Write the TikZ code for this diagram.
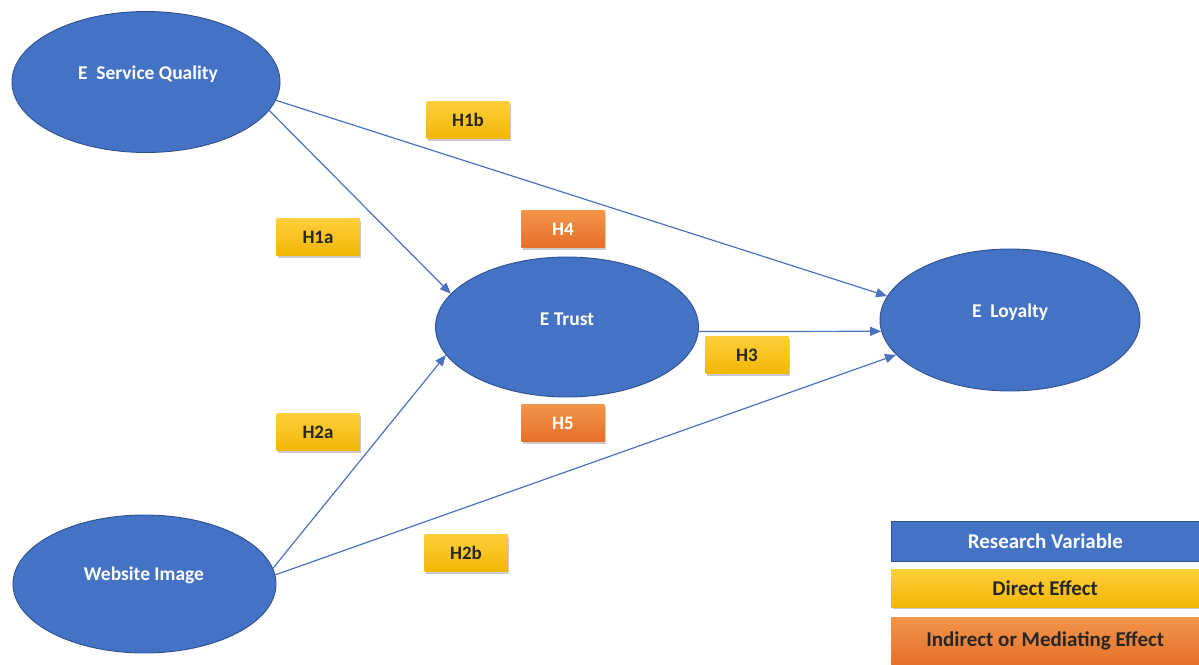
\documentclass[tikz,border=0pt]{standalone}
\usepackage{fontspec}
\setmainfont{Carlito}
\usetikzlibrary{shapes.geometric,shadows,arrows.meta}
\definecolor{vblue}{HTML}{4472C4}
\definecolor{vedge}{HTML}{2F528F}
\definecolor{ytop}{HTML}{FFCF3A}
\definecolor{ybot}{HTML}{F2B705}
\definecolor{otop}{HTML}{F39449}
\definecolor{obot}{HTML}{E6702A}
\definecolor{lnk}{HTML}{4A72C0}
\begin{document}
\begin{tikzpicture}[x=1pt,y=-1pt,
  var/.style={ellipse,fill=vblue,draw=vedge,line width=0.9pt,inner sep=0pt},
  vtext/.style={text=white,font=\fontsize{19.5}{21}\selectfont\bfseries,inner sep=0pt},
  hyp/.style={rectangle,minimum width=83pt,minimum height=37pt,inner sep=0pt,
    drop shadow={shadow xshift=1.5pt,shadow yshift=-2pt,opacity=0.35,fill=black!60},
    font=\fontsize{19}{21}\selectfont\bfseries},
  dbox/.style={hyp,top color=ytop,bottom color=ybot,text=black!85},
  ibox/.style={hyp,top color=otop,bottom color=obot,text=white},
  legbox/.style={rectangle,minimum width=308pt,inner sep=0pt,anchor=west,
    font=\fontsize{21}{23}\selectfont\bfseries},
  link/.style={draw=lnk,line width=1.2pt,-{Triangle[length=11pt,width=9pt]}}
]
\useasboundingbox (0,0) rectangle (1199,664);

% research variables
\node[var,minimum width=268pt,minimum height=141pt] (esq) at (146,82) {};
\node[vtext] (esqt) at (148,74) {E\ \ Service Quality};
\node[var,minimum width=263pt,minimum height=140pt] (etr) at (567,327) {};
\node[vtext] (etrt) at (567,319) {E Trust};
\node[var,minimum width=260pt,minimum height=142pt] (eloy) at (1010,320) {};
\node[vtext] (eloyt) at (1010,312) {E\ \ Loyalty};
\node[var,minimum width=263pt,minimum height=138pt] (wi) at (144.5,584) {};
\node[vtext] (wit) at (144,575) {Website Image};

% connectors
\draw[link] (esq.-13.4) -- (etr.164);
\draw[link] (esq.-8.7) -- (eloy.169);
\draw[link] (etr.-2) -- (eloy.185);
\draw[link] (wi.7) -- (etr.193);
\draw[link] (wi.4) -- (eloy.197.6);

% hypotheses
\node[dbox] (h1b) at (468,120) {H1b};
\node[dbox] (h1a) at (318,237) {H1a};
\node[ibox] (h4) at (563,229) {H4};
\node[ibox] (h5) at (563,423) {H5};
\node[dbox] (h3) at (747,355) {H3};
\node[dbox] (h2a) at (318,432) {H2a};
\node[dbox] (h2b) at (466,553) {H2b};

% legend
\node[legbox,fill=vblue,draw=vedge,line width=0.6pt,text=white,minimum height=40pt] (lg1) at (891,541) {Research Variable};
\node[legbox,top color=ytop,bottom color=ybot,text=black!85,minimum height=38pt,
  drop shadow={shadow xshift=1.5pt,shadow yshift=-2pt,opacity=0.35,fill=black!60}] (lg2) at (891,588) {Direct Effect};
\node[legbox,top color=otop,bottom color=obot,text=black!85,minimum height=48pt] (lg3) at (891,641) {Indirect or Mediating Effect};
\end{tikzpicture}
\end{document}
